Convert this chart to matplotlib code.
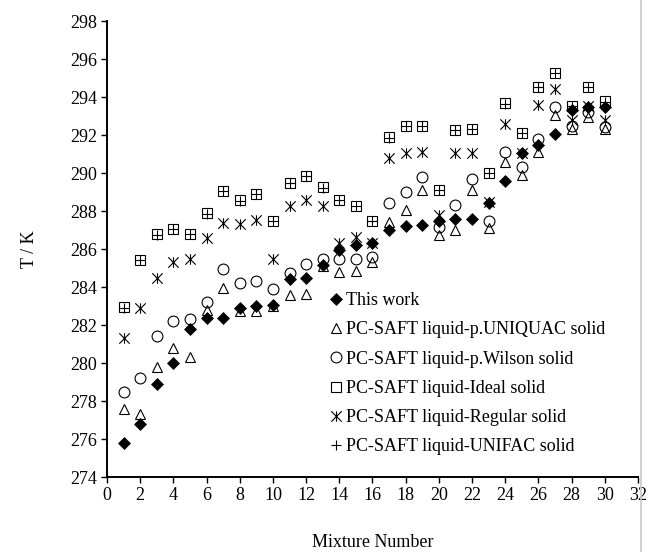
import matplotlib
matplotlib.use('Agg')
import matplotlib.pyplot as plt
from matplotlib.path import Path
from matplotlib.lines import Line2D

plt.rcParams['font.family'] = ['Liberation Serif', 'DejaVu Serif']

mixture = list(range(1, 31))
this_work = [275.8, 276.8, 278.9, 280.0, 281.8, 282.35, 282.35, 282.9, 283.0, 283.05,
             284.4, 284.5, 285.15, 285.95, 286.2, 286.3, 287.0, 287.2, 287.25, 287.5,
             287.6, 287.6, 288.4, 289.6, 291.05, 291.5, 292.05, 293.3, 293.5, 293.5]
uniquac = [277.6, 277.3, 279.8, 280.8, 280.3, 282.8, 283.95, 282.75, 282.75, 283.0,
           283.6, 283.65, 285.1, 284.8, 284.85, 285.3, 287.4, 288.05, 289.1, 286.75,
           287.0, 289.1, 287.1, 290.6, 289.9, 291.1, 293.05, 292.3, 292.95, 292.3]
wilson = [278.5, 279.2, 281.4, 282.2, 282.3, 283.2, 284.95, 284.2, 284.3, 283.9,
          284.75, 285.2, 285.5, 285.45, 285.45, 285.6, 288.4, 289.0, 289.8, 287.15,
          288.3, 289.7, 287.5, 291.1, 290.3, 291.8, 293.45, 292.45, 293.2, 292.4]
ideal = [282.95, 285.4, 286.8, 287.05, 286.8, 287.9, 289.05, 288.6, 288.9, 287.5,
         289.5, 289.85, 289.25, 288.6, 288.25, 287.45, 291.9, 292.45, 292.5, 289.1,
         292.25, 292.3, 290.0, 293.7, 292.1, 294.55, 295.25, 293.55, 294.55, 293.8]
regular = [281.3, 282.9, 284.5, 285.3, 285.5, 286.6, 287.35, 287.3, 287.55, 285.45,
           288.25, 288.6, 288.25, 286.3, 286.65, 286.3, 290.8, 291.05, 291.1, 287.8,
           291.05, 291.05, 288.5, 292.6, 291.05, 293.6, 294.4, 292.8, 293.55, 292.8]
unifac = [282.9, 285.4, 286.75, 287.05, 286.8, 287.85, 289.05, 288.55, 288.9, 287.5,
          289.45, 289.85, 289.2, 288.6, 288.25, 287.45, 291.85, 292.45, 292.5, 289.1,
          292.25, 292.3, 290.0, 293.65, 292.1, 294.55, 295.25, 293.55, 294.55, 293.75]

labels = ['This work', 'PC-SAFT liquid-p.UNIQUAC solid', 'PC-SAFT liquid-p.Wilson solid',
          'PC-SAFT liquid-Ideal solid', 'PC-SAFT liquid-Regular solid',
          'PC-SAFT liquid-UNIFAC solid']
xticks = list(range(0, 33, 2))
yticks = list(range(274, 299, 2))

star = Path([(-1, -1), (1, 1), (-1, 1), (1, -1), (0, -1), (0, 1)],
            [Path.MOVETO, Path.LINETO, Path.MOVETO, Path.LINETO, Path.MOVETO, Path.LINETO])

fig = plt.figure(figsize=(6.52, 5.52), dpi=100)
ax = fig.add_axes([107/652, 1 - 477/552, 531/652, 456/552])

lw = 0.8
ax.plot(mixture, this_work, linestyle='none', marker='D', ms=5.8, mfc='black', mec='black',
        mew=0.5, label=labels[0], zorder=6)
ax.plot(mixture, uniquac, linestyle='none', marker='^', ms=7.5, mfc='none', mec='black',
        mew=lw, label=labels[1], zorder=3)
ax.plot(mixture, wilson, linestyle='none', marker='o', ms=7.8, mfc='none', mec='black',
        mew=lw, label=labels[2], zorder=4)
ax.plot(mixture, ideal, linestyle='none', marker='s', ms=7.2, mfc='none', mec='black',
        mew=lw, label=labels[3], zorder=3)
ax.plot(mixture, regular, linestyle='none', marker=star, ms=7.5, mfc='none', mec='black',
        mew=lw, label=labels[4], zorder=5)
ax.plot(mixture, unifac, linestyle='none', marker='+', ms=7.0, mfc='none', mec='black',
        mew=lw, label=labels[5], zorder=3)

ax.set_xlim(0, 32)
ax.set_ylim(274, 298)
ax.set_xticks(xticks)
ax.set_yticks(yticks)
ax.tick_params(direction='out', length=4, width=1.0, labelsize=13, pad=3)
for s in ['top', 'right']:
    ax.spines[s].set_visible(False)
for s in ['left', 'bottom']:
    ax.spines[s].set_linewidth(1.4)

ax.set_xlabel('Mixture Number', fontsize=13)
ax.xaxis.set_label_coords(0.5, -0.125)
ax.set_ylabel('T / K', fontsize=13)
ax.yaxis.set_label_coords(-0.13, 0.5)

ax.legend(loc='upper left', bbox_to_anchor=((331 - 107) / 531, 1 - (292 - 21) / 456),
          frameon=False, fontsize=13, handlelength=0.6, handletextpad=0.25,
          borderpad=0, borderaxespad=0, labelspacing=0.68, markerscale=1.0)

fig.add_artist(Line2D([641/652, 641/652], [0, 1], color='#c8c8c8', lw=1.2,
                      transform=fig.transFigure))

fig.savefig('out.png', dpi=100)
